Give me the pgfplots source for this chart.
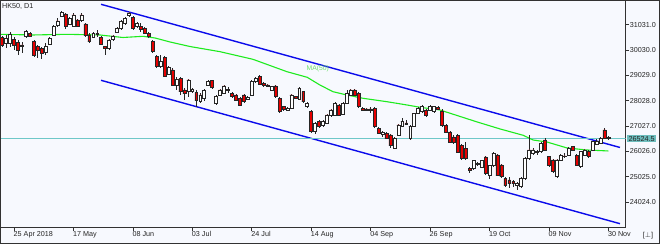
\documentclass[border=0pt]{standalone}
\usepackage{pgfplots}
\pgfplotsset{compat=1.18}
\usepackage{pgfplotstable}
\usepackage{fontspec}
\setmainfont{Liberation Sans}
\definecolor{bg}{RGB}{247,249,254}
\definecolor{frm}{RGB}{50,50,50}
\definecolor{cred}{RGB}{230,0,0}
\definecolor{chan}{RGB}{10,10,235}
\definecolor{ma}{RGB}{30,235,30}
\definecolor{malab}{RGB}{110,225,110}
\definecolor{pline}{RGB}{110,200,200}
\definecolor{pbox}{RGB}{110,190,190}

% i open high low close
\pgfplotstableread{
i o h l c
-3 30532 30585 30163 30229
-2 30295 30624 30097 30493
-1 30295 30756 30163 30651
0 30453 30558 30032 30229
1 30321 30427 29834 30032
2 30163 30361 29900 30229
3 30558 30822 30493 30756
4 30690 30756 30532 30585
5 30361 30427 29768 29834
6 30163 30229 29702 30032
7 30097 30163 29663 29900
8 29926 30295 29834 30163
9 30269 30558 30229 30493
10 30624 31019 30585 30953
11 31019 31283 30953 31177
12 31375 31572 31348 31520
13 31454 31480 30848 30953
14 31059 31322 31019 31283
15 30980 31480 30953 31414
16 31217 31270 30927 30980
17 31217 31480 31151 31414
18 31059 31085 30558 30624
19 30624 30690 30295 30361
20 30532 30756 30493 30690
21 30651 30822 30558 30690
22 30532 30585 30229 30269
23 30163 30190 29834 30097
24 30097 30480 30032 30427
25 30453 30620 30400 30585
26 30716 30950 30690 30888
27 30888 31217 30822 31151
28 31085 31348 31030 31283
29 31414 31546 31348 31500
30 31322 31380 30822 30888
31 30953 31150 30900 31085
32 30953 31085 30756 30870
33 30888 30953 30650 30690
34 30690 30756 30493 30558
35 30361 30427 29900 29966
36 29768 29834 29310 29373
37 29373 29834 29310 29570
38 29742 29780 28950 28978
39 29077 29400 29040 29340
40 29241 29300 28600 28649
41 28649 28978 28451 28873
42 28912 28978 28253 28385
43 28451 28517 28056 28319
44 28385 28870 28188 28846
45 28385 28530 28340 28477
46 28359 28451 27792 28056
47 27990 28320 27924 28253
48 28120 28480 28000 28420
49 28648 28830 28600 28780
50 28820 28860 28500 28556
51 27924 28253 27860 28187
52 28253 28500 28200 28451
53 28319 28650 28280 28609
54 28420 28560 28350 28480
55 28319 28380 28150 28187
56 28253 28290 28000 28056
57 28121 28160 27800 27858
58 28253 28300 27950 27990
59 28082 28200 28040 28161
60 28253 28830 28200 28780
61 28780 28978 28740 28912
62 28978 29043 28650 28688
63 28714 28780 28570 28620
64 28610 28700 28560 28648
65 28451 28620 28420 28583
66 28609 28640 28150 28187
67 28121 28160 27560 27595
68 27792 27820 27600 27687
69 27660 27760 27630 27726
70 27726 28290 27700 28253
71 28187 28230 28090 28121
72 28082 28560 28050 28517
73 28385 28420 27950 27990
74 27792 27990 27740 27923
75 27594 27650 26750 26804
76 26804 27180 26700 27133
77 27199 27260 26950 27001
78 27067 27265 27001 27199
79 27133 27500 27100 27462
80 27462 27700 27400 27660
81 27462 27960 27420 27923
82 27857 27900 27420 27462
83 27500 27960 27450 27923
84 27923 28450 27900 28318
85 28252 28500 28200 28450
86 28450 28500 28200 28252
87 28318 28360 27750 27791
88 27725 27780 27620 27660
89 27660 27750 27600 27700
90 27700 27760 27560 27640
91 27725 27760 26950 27001
92 26935 26990 26700 26738
93 26700 26820 26600 26770
94 26738 26780 26500 26540
95 26672 26700 26150 26277
96 26145 26580 26100 26540
97 26672 27110 26640 27067
98 27002 27330 26970 27199
99 27150 27250 27050 27100
100 26541 27050 26480 27002
101 27002 27560 26970 27529
102 27529 27780 27500 27726
103 27595 27850 27560 27792
104 27660 27700 27400 27437
105 27660 27850 27620 27790
106 27595 27830 27560 27790
107 27750 27800 27650 27700
108 27621 27680 27000 27068
109 27054 27100 26740 26791
110 26791 26840 26340 26396
111 26600 26660 26330 26400
112 26659 26700 25950 26001
113 26264 26300 25700 25737
114 26132 26409 25690 25737
115 25342 25420 25150 25276
116 25342 25700 25300 25671
117 25540 25600 25440 25500
118 25408 25700 25380 25671
119 25803 25840 25100 25145
120 25079 25500 24950 25474
121 25474 25990 25420 25948
122 25882 25920 25050 25092
123 25487 25530 24980 25026
124 24950 25000 24620 24700
125 24895 25026 24560 24763
126 24830 24895 24630 24763
127 24690 24830 24500 24760
128 24631 25000 24560 24960
129 24960 25800 24900 25751
130 25751 26672 25700 26080
131 25950 26150 25900 26080
132 26010 26080 25900 25980
133 26014 26400 25960 26343
134 26475 26540 26050 26080
135 25816 25850 25420 25487
136 25685 25720 25160 25224
137 25026 25720 24960 25685
138 25685 25920 25650 25880
139 25820 25950 25760 25850
140 25882 26200 25850 26146
141 26211 26250 26040 26080
142 25880 25920 25450 25487
143 25421 26050 25350 26014
144 25880 26120 25850 26080
145 26014 26080 25780 25816
146 26080 26450 26040 26409
147 26300 26500 26260 26409
148 26343 26600 26300 26541
149 26870 26935 26500 26541
150 26580 26640 26470 26524.5
}\candles

% MA(50)
\pgfplotstableread{
i p
-3.53 30651
4.8 30624
13.4 30651
21.7 30624
27.5 30525
32.6 30572
35.6 30505
39.4 30347
44.4 30169
52 29964
60.3 29663
68.9 29173
74 28952
77.2 28648
80.5 28383
84 28253
88.1 28122
94.1 27988
99.2 27857
102.5 27766
107.5 27660
112.6 27403
116.9 27186
122.7 26909
128.5 26660
131 26474
134.5 26395
139.6 26158
144.6 26079
150 26040
}\matab

\begin{document}
\begin{tikzpicture}
\useasboundingbox (0,-16.5bp) rectangle (660bp,227.5bp);
\fill[bg] (0,-16.5bp) rectangle (660bp,227.5bp);
\begin{axis}[
  scale only axis, width=625.7bp, height=227.5bp,
  xmin=-3.534, xmax=154.39, ymin=23015, ymax=32007,
  scaled y ticks=false, scaled x ticks=false,
  axis line style={frm, line width=0.8bp},
  axis background/.style={fill=bg},
  xtick={0,15,...,150},
  xticklabels={25 Apr 2018,17 May,08 Jun,03 Jul,24 Jul,14 Aug,04 Sep,26 Sep,19 Oct,09 Nov,30 Nov},
  ytick={24024,25025,26026,27027,28028,29029,30030,31031},
  yticklabels={24024.0,25025.0,26026.0,27027.0,28028.0,29029.0,30030.0,31031.0},
  xtick pos=bottom, ytick pos=right, yticklabel pos=right,
  tick align=outside, major tick length=3.5bp,
  tick style={frm, line width=0.6bp},
  ticklabel style={font=\fontsize{7.2bp}{8bp}\selectfont, text=black!85},
  xticklabel style={anchor=north west, inner sep=0pt, xshift=-0.5bp, yshift=-0.5bp},
  yticklabel style={anchor=west, inner sep=0pt, xshift=0.5bp},
]
% channel
\addplot[mark=none, chan, line width=1.4bp] coordinates {(21.96,31837) (152.95,26178)};
\addplot[mark=none, chan, line width=1.4bp] coordinates {(21.96,28833) (152.95,23166)};
% last price line
\addplot[mark=none, pline, line width=0.8bp] coordinates {(-3.534,26524.5) (154.39,26524.5)};
% MA(50)
\addplot[mark=none, ma, line width=1.1bp] table[x=i, y=p]{\matab};
% wicks
\addplot[draw=none, mark=none, error bars/.cd, y dir=both, y explicit, error mark=none,
  error bar style={draw=black!85, solid, line width=0.6bp}]
  table[x=i, y expr={(\thisrow{h}+\thisrow{l})/2}, y error expr={(\thisrow{h}-\thisrow{l})/2}]{\candles};
% bodies (stacked: invisible base, up body, down body)
\addplot[ybar, bar shift=0pt, bar width=2.9bp, stack plots=y, draw=none, fill=none]
  table[x=i, y expr={min(\thisrow{o},\thisrow{c})}]{\candles};
\addplot[ybar, bar shift=0pt, bar width=2.9bp, stack plots=y, draw=black!85, fill=white, line width=0.5bp]
  table[x=i, y expr={max(\thisrow{c}-\thisrow{o},0)}]{\candles};
\addplot[ybar, bar shift=0pt, bar width=2.9bp, stack plots=y, draw=black!85, fill=cred, line width=0.5bp]
  table[x=i, y expr={max(\thisrow{o}-\thisrow{c},0)}]{\candles};
\end{axis}
\node[anchor=west, inner sep=0pt, font=\fontsize{7.2bp}{8bp}\selectfont, text=black!85] at (2bp,221.2bp) {HK50, D1};
\node[inner sep=0pt, font=\fontsize{6.8bp}{8bp}\selectfont, text=malab] at (317.8bp,158.7bp) {MA(50)};
\node[anchor=west, fill=pbox, inner xsep=1.5bp, inner ysep=1.2bp, font=\fontsize{7.2bp}{8bp}\selectfont, text=black!85] at (627bp,88.8bp) {26524.5};
\node[inner sep=0pt, font=\fontsize{7.2bp}{8bp}\selectfont, text=black!85] at (648bp,-8.3bp) {[$\perp$]};
\draw[frm, line width=0.8bp] (0.4bp,-16.1bp) rectangle (659.6bp,227.1bp);
\end{tikzpicture}
\end{document}
